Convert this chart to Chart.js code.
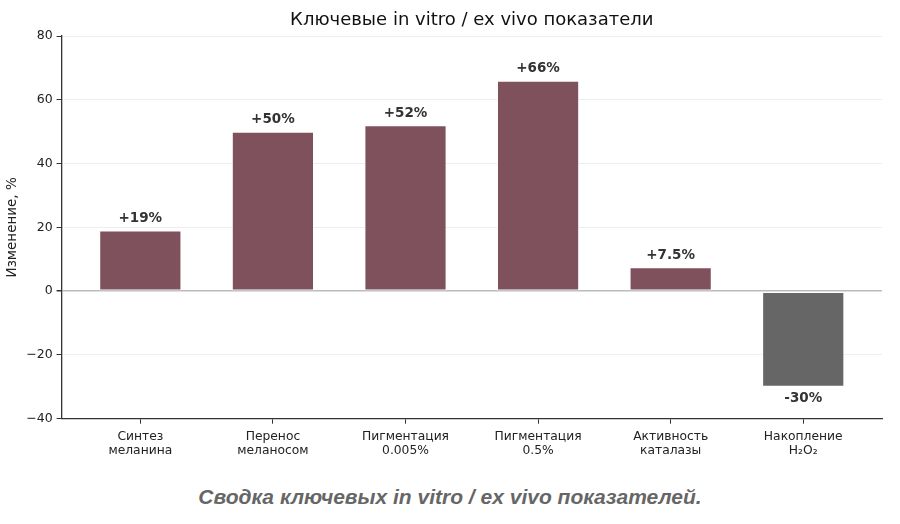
<!DOCTYPE html>
<html>
<head>
<meta charset="utf-8">
<script src="https://cdn.jsdelivr.net/npm/chart.js@4"></script>
<style>
  html, body { margin: 0; padding: 0; background: #fff; }
  #wrap { width: 900px; height: 464px; position: relative; }
  #caption {
    width: 900px; text-align: center;
    font: italic bold 21px "Liberation Sans", Arial, sans-serif;
    color: #666; margin-top: 21px;
  }
</style>
</head>
<body>
<div id="wrap"><canvas id="chart"></canvas></div>
<div id="caption">Сводка ключевых in vitro / ex vivo показателей.</div>
<script>
// data
const categories = [
    ['Синтез', 'меланина'],
    ['Перенос', 'меланосом'],
    ['Пигментация', '0.005%'],
    ['Пигментация', '0.5%'],
    ['Активность', 'каталазы'],
    ['Накопление', 'H₂O₂']
];
const values = [19, 50, 52, 66, 7.5, -30];
const valueLabels = ['+19%', '+50%', '+52%', '+66%', '+7.5%', '-30%'];
const yTicks = [-40, -20, 0, 20, 40, 60, 80];
const chartTitle = 'Ключевые in vitro / ex vivo показатели';

const FONT = "'DejaVu Sans', sans-serif";

// value labels on bars + title centred over the plot area
const barLabels = {
    id: 'barLabels',
    afterDatasetsDraw(chart) {
        const ctx = chart.ctx;
        const meta = chart.getDatasetMeta(0);
        const area = chart.chartArea;
        ctx.save();
        ctx.font = 'bold 13.5px ' + FONT;
        ctx.fillStyle = '#333';
        ctx.textAlign = 'center';
        meta.data.forEach((bar, i) => {
            if (values[i] >= 0) {
                ctx.textBaseline = 'bottom';
                ctx.fillText(valueLabels[i], bar.x, bar.y - 5);
            } else {
                ctx.textBaseline = 'top';
                ctx.fillText(valueLabels[i], bar.x, bar.y + 5);
            }
        });
        ctx.font = '18px ' + FONT;
        ctx.fillStyle = '#111';
        ctx.textBaseline = 'middle';
        ctx.fillText(chartTitle, (area.left + area.right) / 2, 20);
        ctx.restore();
    }
};

new Chart(document.getElementById('chart'), {
    type: 'bar',
    data: {
        datasets: [{
            data: values.map((v, i) => ({ x: i, y: v })),
            backgroundColor: values.map(v => v >= 0 ? '#7f515c' : '#666666'),
            borderColor: 'rgba(255,255,255,0.6)',
            borderWidth: 1,
            borderSkipped: false,
            categoryPercentage: 1,
            barPercentage: 0.62
        }]
    },
    options: {
        responsive: true,
        maintainAspectRatio: false,
        animation: false,
        layout: { padding: { left: 0, right: 18, top: 36, bottom: 0 } },
        plugins: {
            legend: { display: false },
            tooltip: { enabled: false },
            title: { display: false }
        },
        scales: {
            x: {
                type: 'linear',
                offset: false,
                min: -0.594,
                max: 5.594,
                afterBuildTicks: axis => { axis.ticks = categories.map((c, i) => ({ value: i })); },
                ticks: {
                    callback: v => categories[v],
                    color: '#222',
                    font: { family: FONT, size: 12.3, lineHeight: 1.15 },
                    maxRotation: 0,
                    autoSkip: false,
                    padding: 6
                },
                grid: { display: true, offset: false, drawOnChartArea: false, tickLength: 5, tickColor: '#333' },
                border: { color: '#333', width: 1.3 }
            },
            y: {
                min: -40,
                max: 80,
                afterBuildTicks: axis => { axis.ticks = yTicks.map(v => ({ value: v })); },
                ticks: {
                    callback: v => v < 0 ? '\u2212' + Math.abs(v) : String(v),
                    color: '#222',
                    font: { family: FONT, size: 12.5 },
                    padding: 4
                },
                grid: {
                    color: ctx => ctx.tick && ctx.tick.value === 0 ? '#bbbbbb' : '#eeeeee',
                    lineWidth: ctx => ctx.tick && ctx.tick.value === 0 ? 1.5 : 1,
                    tickColor: '#333',
                    tickLength: 5
                },
                border: { color: '#333', width: 1.3 },
                title: {
                    display: true,
                    text: 'Изменение, %',
                    color: '#222',
                    font: { family: FONT, size: 13.5 },
                    padding: { top: 4, bottom: 2 }
                }
            }
        }
    },
    plugins: [barLabels]
});
</script>
</body>
</html>
